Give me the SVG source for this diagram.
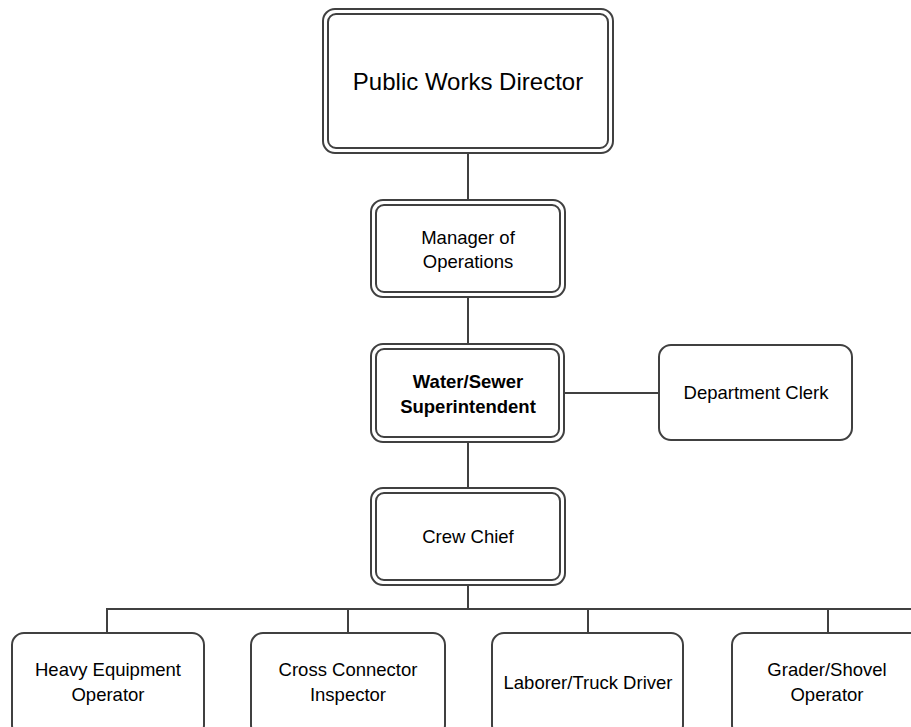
<svg xmlns="http://www.w3.org/2000/svg" width="911" height="727" viewBox="0 0 911 727">
<style>
.o{fill:#fff;stroke:#404040;stroke-width:2}
.i{fill:none;stroke:#404040;stroke-width:2}
.s{fill:#fff;stroke:#404040;stroke-width:2}
.c{fill:none;stroke:#404040;stroke-width:2}
text{font-family:"Liberation Sans",Arial,sans-serif;fill:#000;text-anchor:middle}
.t{font-size:18.5px}
.b{font-size:18.5px;font-weight:bold}
.h{font-size:24px}
</style>
<rect width="911" height="727" fill="#fff"/>
<g id="connectors">
<line class="c" x1="468" y1="153" x2="468" y2="200"/>
<line class="c" x1="468" y1="297" x2="468" y2="344"/>
<line class="c" x1="564" y1="393" x2="659" y2="393"/>
<line class="c" x1="468" y1="442" x2="468" y2="488"/>
<line class="c" x1="468" y1="585" x2="468" y2="609"/>
<polyline class="c" points="107,633 107,609 911,609"/>
<line class="c" x1="348" y1="609" x2="348" y2="633"/>
<line class="c" x1="588" y1="609" x2="588" y2="633"/>
<line class="c" x1="828" y1="609" x2="828" y2="633"/>
</g>
<g id="director">
<rect class="o" x="323" y="9" width="290" height="144" rx="12"/>
<rect class="i" x="328" y="14" width="280" height="134" rx="8"/>
<text class="h" x="468" y="90">Public Works Director</text>
</g>
<g id="manager">
<rect class="o" x="371" y="200" width="194" height="97" rx="12"/>
<rect class="i" x="376" y="205" width="184" height="87" rx="8"/>
<text class="t" x="468" y="244">Manager of</text>
<text class="t" x="468" y="268">Operations</text>
</g>
<g id="superintendent">
<rect class="o" x="371" y="344" width="193" height="98" rx="12"/>
<rect class="i" x="376" y="349" width="183" height="88" rx="8"/>
<text class="b" x="468" y="388">Water/Sewer</text>
<text class="b" x="468" y="413">Superintendent</text>
</g>
<g id="clerk">
<rect class="s" x="659" y="345" width="193" height="95" rx="12"/>
<text class="t" x="756" y="399">Department Clerk</text>
</g>
<g id="crewchief">
<rect class="o" x="371" y="488" width="194" height="97" rx="12"/>
<rect class="i" x="376" y="493" width="184" height="87" rx="8"/>
<text class="t" x="468" y="543">Crew Chief</text>
</g>
<g id="heavy">
<rect class="s" x="12" y="633" width="192" height="104" rx="12"/>
<text class="t" x="108" y="676">Heavy Equipment</text>
<text class="t" x="108" y="701">Operator</text>
</g>
<g id="cross">
<rect class="s" x="251" y="633" width="194" height="104" rx="12"/>
<text class="t" x="348" y="676">Cross Connector</text>
<text class="t" x="348" y="701">Inspector</text>
</g>
<g id="laborer">
<rect class="s" x="492" y="633" width="191" height="104" rx="12"/>
<text class="t" x="588" y="689">Laborer/Truck Driver</text>
</g>
<g id="grader">
<rect class="s" x="732" y="633" width="192" height="104" rx="12"/>
<text class="t" x="827" y="676">Grader/Shovel</text>
<text class="t" x="827" y="701">Operator</text>
</g>
</svg>
